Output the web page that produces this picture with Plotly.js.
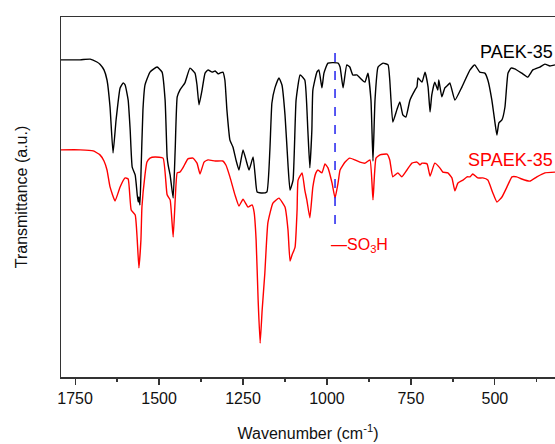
<!DOCTYPE html>
<html>
<head>
<meta charset="utf-8">
<script src="https://cdn.plot.ly/plotly-3.0.1.min.js"></script>
<style>html,body{margin:0;padding:0;background:#fff;overflow:hidden}#chart{width:555px;height:444px}</style>
</head>
<body>
<div id="chart"></div>
<script>
// PAEK-35 spectrum (wavenumber, cm^-1 ; transmittance, a.u.)
const paekWavenumber = [1792,1735,1705,1685,1676,1664,1655,1646,1637,1628,1616,1607,1601,1592,1586,1580,1571,1565,1562,1560,1557,1554,1548,1542,1527,1506,1491,1482,1476,1473,1467,1458,1452,1446,1438,1423,1408,1393,1387,1381,1372,1363,1354,1342,1333,1324,1319,1310,1304,1298,1289,1280,1271,1262,1250,1241,1232,1220,1214,1208,1193,1179,1170,1164,1155,1143,1134,1125,1116,1110,1101,1092,1080,1066,1057,1051,1045,1042,1030,1024,1015,1009,997,967,961,952,941,932,923,911,902,887,878,869,863,857,848,833,818,813,804,792,783,774,765,753,738,732,729,717,708,699,693,688,679,670,667,658,649,640,634,619,598,574,560,545,530,521,509,500,494,488,479,470,461,452,441,420,402,387,366,351,336,321];
const paekT = [88.1,88.1,88.3,87.5,86.9,85.3,82.5,75.0,62.2,71.4,80.3,81.7,81.1,76.9,68.6,58.3,56.1,50.6,48.6,50.0,47.8,56.1,74.2,81.1,84.7,86.1,84.7,76.9,61.1,58.9,56.1,49.7,63.1,77.8,79.7,81.7,85.8,84.4,81.1,75.6,79.7,84.4,85.3,84.7,85.0,84.2,84.4,84.7,82.5,74.2,65.8,63.9,60.3,57.5,63.1,60.3,57.5,61.1,56.1,51.4,51.1,51.4,63.1,76.1,80.3,83.1,81.1,72.8,58.9,51.9,54.7,76.9,83.9,82.5,68.6,58.1,68.6,79.7,84.7,85.3,80.3,84.4,87.2,87.2,86.1,80.3,86.7,86.1,83.9,83.9,83.1,81.9,84.4,76.9,60.0,76.9,86.1,87.2,86.7,82.5,70.8,74.2,76.4,72.8,72.2,76.9,79.7,80.6,83.1,81.9,84.7,80.6,73.6,78.3,81.9,79.7,82.5,77.8,80.3,81.1,81.7,76.9,80.6,85.3,86.7,84.7,84.4,82.5,76.9,70.8,67.2,70.6,71.4,75.0,84.4,85.8,85.6,84.4,83.3,85.3,86.1,86.9,86.4,86.7];

// SPAEK-35 spectrum
const spaekWavenumber = [1792,1735,1696,1676,1664,1655,1646,1631,1616,1601,1592,1583,1571,1565,1560,1554,1551,1542,1536,1527,1512,1488,1476,1467,1458,1452,1446,1438,1429,1414,1399,1387,1378,1366,1354,1333,1310,1301,1289,1274,1262,1250,1235,1223,1217,1211,1205,1199,1193,1185,1176,1161,1143,1125,1116,1110,1104,1095,1089,1086,1074,1066,1060,1051,1042,1033,1027,1015,1006,997,985,976,967,961,946,932,917,902,887,872,863,854,842,821,813,804,789,777,762,747,732,723,717,702,693,679,664,655,640,628,619,610,595,583,574,566,551,536,521,506,494,479,464,449,435,420,396,375,351,321];
const spaekT = [63.1,63.1,62.8,61.7,60.0,57.5,52.8,48.9,52.8,55.3,55.0,46.4,45.0,38.1,30.3,38.1,47.2,56.1,59.7,60.8,61.1,60.8,50.6,49.2,38.9,49.2,56.7,56.9,58.1,60.6,60.8,59.4,56.4,59.7,60.3,60.0,60.0,58.9,55.6,50.6,47.5,49.4,47.2,47.8,45.8,38.1,21.4,9.4,18.6,28.9,42.8,48.3,49.7,47.2,40.8,32.2,33.9,36.1,46.4,54.7,56.7,51.9,49.2,44.2,52.8,56.7,57.5,56.7,59.2,58.1,53.9,49.7,53.9,57.5,59.7,60.8,60.3,59.7,59.4,60.3,49.2,60.8,61.7,61.9,60.3,55.6,56.7,55.6,57.5,59.4,59.7,58.9,59.4,59.2,55.8,59.4,58.1,56.9,56.7,55.3,51.7,53.9,54.7,55.6,55.6,56.4,55.3,55.3,54.7,51.1,48.6,50.0,52.8,55.6,55.6,55.0,54.4,55.6,56.7,56.9];

const seriesNames = ["PAEK-35", "SPAEK-35"];
const so3hWavenumber = 976;         // marked -SO3H band
const so3hLineT = [90.0, 40.3];     // extent of the dashed marker (a.u.)
const xTicks = [1750, 1500, 1250, 1000, 750, 500];

const font = "Liberation Sans, Arial, sans-serif";

const traces = [
  {x: paekWavenumber, y: paekT, type: "scatter", mode: "lines", name: seriesNames[0],
   line: {color: "#000000", width: 1.4, shape: "spline", smoothing: 0.4}},
  {x: spaekWavenumber, y: spaekT, type: "scatter", mode: "lines", name: seriesNames[1],
   line: {color: "#ff0000", width: 1.4, shape: "spline", smoothing: 0.4}}
];

const layout = {
  width: 555, height: 444,
  margin: {l: 61, r: 0, t: 17, b: 67},
  paper_bgcolor: "#ffffff", plot_bgcolor: "#ffffff",
  showlegend: false,
  font: {family: font, color: "#000000", size: 16},
  xaxis: {
    range: [1792, 321], autorange: false,
    tickvals: xTicks, ticktext: xTicks.map(String),
    ticks: "outside", ticklen: 6, tickwidth: 1.2, tickcolor: "#333",
    minor: {tickvals: [1625, 1375, 1125, 875, 625, 375], ticks: "outside", ticklen: 3, tickwidth: 1.2, tickcolor: "#333"},
    showline: true, linecolor: "#333", linewidth: 1.5, mirror: true,
    showgrid: false, zeroline: false,
    tickfont: {family: font, size: 16, color: "#111"},
    title: {text: "Wavenumber (cm<sup>-1</sup>)", font: {family: font, size: 16, color: "#111"}, standoff: 22}
  },
  yaxis: {
    range: [0, 100], autorange: false,
    showticklabels: false, ticks: "",
    showline: true, linecolor: "#333", linewidth: 1.5, mirror: false,
    showgrid: false, zeroline: false,
    title: {text: "Transmittance (a.u.)", font: {family: font, size: 16, color: "#111"}, standoff: 28}
  },
  shapes: [
    {type: "line", xref: "x", yref: "y", x0: so3hWavenumber, x1: so3hWavenumber, y0: so3hLineT[0], y1: so3hLineT[1],
     line: {color: "#2222ee", width: 1.5, dash: "dash"}}
  ],
  annotations: [
    {xref: "paper", yref: "y", x: 1.0, y: 90.3, text: seriesNames[0], showarrow: false,
     xanchor: "right", yanchor: "middle", font: {family: font, size: 18, color: "#000"}},
    {xref: "paper", yref: "y", x: 1.0, y: 60.3, text: seriesNames[1], showarrow: false,
     xanchor: "right", yanchor: "middle", font: {family: font, size: 18, color: "#ff0000"}},
    {xref: "x", yref: "y", x: 994, y: 36.4, text: "—SO<sub>3</sub>H", showarrow: false,
     xanchor: "left", yanchor: "middle", font: {family: font, size: 16, color: "#ff0000"}}
  ]
};

Plotly.newPlot("chart", traces, layout, {staticPlot: true, displayModeBar: false});
</script>
</body>
</html>
